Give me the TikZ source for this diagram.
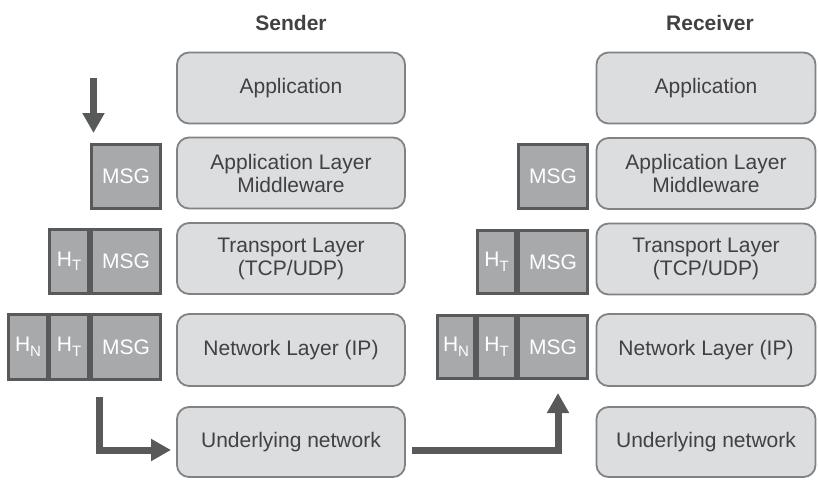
\documentclass[tikz,border=0pt]{standalone}
\usepackage{fontspec}
\setmainfont{Liberation Sans}
\usetikzlibrary{arrows.meta}
\definecolor{layerfill}{HTML}{DCDDDE}
\definecolor{layerdraw}{HTML}{808285}
\definecolor{pktfill}{HTML}{A7A9AB}
\definecolor{pktdraw}{HTML}{58595B}
\definecolor{txt}{HTML}{414042}
\newcommand{\hdr}[1]{H\raisebox{-4.5pt}{\fontsize{15}{15}\selectfont #1}}
\tikzset{
  x=1pt, y=-1pt,
  layer/.style={draw=layerdraw, fill=layerfill, line width=1.8pt,
    rounded corners=12pt, inner sep=0pt, align=center, text=txt,
    font=\fontsize{21}{23}\selectfont},
  pkt/.style={draw=pktdraw, fill=pktfill, line width=3.3pt, inner sep=0pt,
    text=white, font=\fontsize{21}{23}\selectfont},
  flow/.style={draw=pktdraw, line width=7pt, line join=miter,
    -{Triangle[width=21pt,length=20pt]}},
  title/.style={text=txt, font=\fontsize{21}{23}\selectfont\bfseries}
}
\begin{document}
\begin{tikzpicture}
\useasboundingbox (0,0) rectangle (818,479);

% column titles
\node[title] (snd) at (291,23) {Sender};
\node[title] (rcv) at (710,23) {Receiver};

% sender protocol stack
\begin{scope}[every node/.append style={minimum width=228pt}]
\node[layer, minimum height=71pt] (sA) at (291,88)  {Application};
\node[layer, minimum height=71pt] (sM) at (291,173) {Application Layer\\Middleware};
\node[layer, minimum height=71pt] (sT) at (291,258.5) {Transport Layer\\(TCP/UDP)};
\node[layer, minimum height=72pt] (sN) at (291,350) {Network Layer (IP)};
\node[layer, minimum height=70pt] (sU) at (291,442) {Underlying network};
\end{scope}

% receiver protocol stack
\begin{scope}[every node/.append style={minimum width=219pt}]
\node[layer, minimum height=71pt] (rA) at (706,88)  {Application};
\node[layer, minimum height=71pt] (rM) at (706,173.5) {Application Layer\\Middleware};
\node[layer, minimum height=71pt] (rT) at (706,259) {Transport Layer\\(TCP/UDP)};
\node[layer, minimum height=72pt] (rN) at (706,350) {Network Layer (IP)};
\node[layer, minimum height=70pt] (rU) at (706,442) {Underlying network};
\end{scope}

% sender packets
\node[pkt, minimum width=69pt, minimum height=64pt] (sM1) at (126,176.5) {MSG};
\node[pkt, minimum width=69pt, minimum height=64pt] (sT2) at (126,261.5) {MSG};
\node[pkt, minimum width=38.7pt, minimum height=64pt] (sT1) at (69,261.5) {\hdr{T}};
\node[pkt, minimum width=69pt, minimum height=64.7pt] (sN3) at (126,347) {MSG};
\node[pkt, minimum width=38.7pt, minimum height=64.7pt] (sN2) at (69,347) {\hdr{T}};
\node[pkt, minimum width=38.7pt, minimum height=64.7pt] (sN1) at (28,347) {\hdr{N}};

% receiver packets
\node[pkt, minimum width=69pt, minimum height=64pt] (rM1) at (553,176.5) {MSG};
\node[pkt, minimum width=69pt, minimum height=63pt] (rT2) at (553,262) {MSG};
\node[pkt, minimum width=38pt, minimum height=63pt] (rT1) at (496.5,262) {\hdr{T}};
\node[pkt, minimum width=69pt, minimum height=63pt] (rN3) at (553,347) {MSG};
\node[pkt, minimum width=38pt, minimum height=63pt] (rN2) at (496.5,347) {\hdr{T}};
\node[pkt, minimum width=37pt, minimum height=63pt] (rN1) at (456,347) {\hdr{N}};

% message flow
\coordinate (d0) at (93.5,78);
\coordinate (d1) at (93.5,133);
\draw[flow] (d0) -- (d1);

\coordinate (l0) at (99,397);
\coordinate (l1) at (99,450);
\coordinate (l2) at (171,450);
\draw[flow] (l0) -- (l1) -- (l2);

\coordinate (b0) at (412,450);
\coordinate (b1) at (558,450);
\coordinate (b2) at (558,393);
\draw[flow] (b0) -- (b1) -- (b2);
\end{tikzpicture}
\end{document}
